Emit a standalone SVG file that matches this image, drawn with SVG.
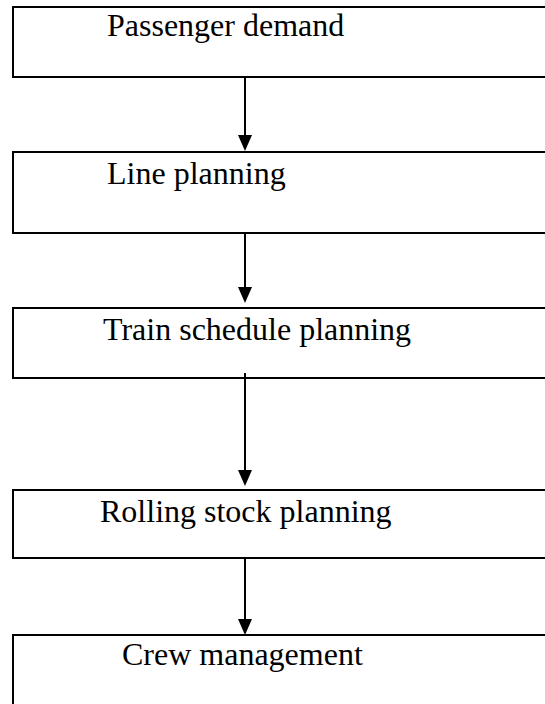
<svg xmlns="http://www.w3.org/2000/svg" width="545" height="704" viewBox="0 0 545 704">
<style>
.box{fill:#fff;stroke:#000;stroke-width:2}
.lbl{font-family:"Liberation Serif","Times New Roman",serif;font-size:32px;fill:#000}
.conn{stroke:#000;stroke-width:2;fill:none}
</style>
<defs>
<marker id="ah" markerWidth="8" markerHeight="8" refX="8" refY="4" orient="auto" markerUnits="userSpaceOnUse" viewBox="0 0 8 8">
<path d="M0,0 L8,4 L0,8 Z" fill="#000"/>
</marker>
</defs>
<rect width="545" height="704" fill="#fff"/>
<g id="n1"><rect class="box" x="13" y="7" width="600" height="70"/><text class="lbl" x="107" y="36">Passenger demand</text></g>
<g id="n2"><rect class="box" x="13" y="152" width="600" height="81"/><text class="lbl" x="107" y="184">Line planning</text></g>
<g id="n3"><rect class="box" x="13" y="308" width="600" height="70"/><text class="lbl" x="103" y="340">Train schedule planning</text></g>
<g id="n4"><rect class="box" x="13" y="490" width="600" height="68"/><text class="lbl" x="100" y="522">Rolling stock planning</text></g>
<g id="n5"><rect class="box" x="13" y="635" width="600" height="100"/><text class="lbl" x="122" y="665">Crew management</text></g>
<g id="connectors">
<line class="conn" x1="245" y1="77" x2="245" y2="136"/><path d="M238,135 L252,135 L245,151 Z"/>
<line class="conn" x1="245" y1="233" x2="245" y2="288"/><path d="M238,287 L252,287 L245,303 Z"/>
<line class="conn" x1="245" y1="373" x2="245" y2="471"/><path d="M238,470 L252,470 L245,486 Z"/>
<line class="conn" x1="245" y1="558" x2="245" y2="620"/><path d="M238,619 L252,619 L245,635 Z"/>
</g>
</svg>
